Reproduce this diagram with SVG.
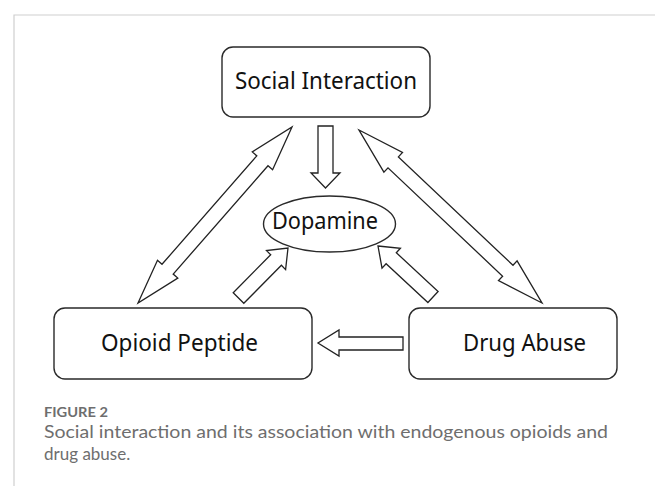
<svg xmlns="http://www.w3.org/2000/svg" width="655" height="486" viewBox="0 0 655 486">
<style>
.box{fill:#fff;stroke:#2a2a2a;stroke-width:1.4}
.lbl{font-family:"Noto Sans","Open Sans","Liberation Sans",sans-serif;font-size:23px;fill:#111;text-anchor:middle}
.arr{fill:#fff;stroke:#222;stroke-width:1.3;stroke-linejoin:miter}
.cap{font-family:Lato,"Open Sans","Liberation Sans",sans-serif;fill:#6e6e6e}
</style>
<rect width="655" height="486" fill="#fff"/>
<path d="M14 486 V15 H655" fill="none" stroke="#cfcfcf" stroke-width="1.2"/>
<g id="social-interaction">
<rect class="box" x="222" y="47" width="208" height="70" rx="11"/>
<text class="lbl" x="326" y="89" textLength="182" lengthAdjust="spacingAndGlyphs">Social Interaction</text>
</g>
<g id="dopamine">
<ellipse class="box" cx="329.5" cy="224" rx="66" ry="28"/>
<text class="lbl" x="325" y="229" font-size="22" textLength="106" lengthAdjust="spacingAndGlyphs">Dopamine</text>
</g>
<g id="opioid-peptide">
<rect class="box" x="54" y="308" width="258" height="71" rx="11"/>
<text class="lbl" x="179.5" y="351" textLength="157" lengthAdjust="spacingAndGlyphs">Opioid Peptide</text>
</g>
<g id="drug-abuse">
<rect class="box" x="409" y="308" width="208" height="71" rx="11"/>
<text class="lbl" x="524.5" y="351" textLength="123" lengthAdjust="spacingAndGlyphs">Drug Abuse</text>
</g>
<g id="connectors">
<polygon class="arr" points="292,127 272.6,169.7 268,165.7 173.2,274.1 177.8,278.1 138,303 157.5,260.3 162,264.3 256.8,155.9 252.3,151.9"/>
<polygon class="arr" points="359,130 402.5,152.5 398.4,156.9 513,265.3 517.1,260.9 542,303 498.5,280.5 502.6,276.2 388,167.8 383.9,172.1"/>
<polygon class="arr" points="318,126 333,126 333,173 340,173 325.5,188 311,173 318,173"/>
<polygon class="arr" points="288,248 285.6,269.6 281.4,265.3 243.8,303.3 233.2,292.7 270.7,254.8 266.5,250.6"/>
<polygon class="arr" points="378,246 400.4,248.3 396.3,252.7 438.1,291.5 427.9,302.5 386.1,263.7 382,268.1"/>
<polygon class="arr" points="403,337 339,337 339,330 318,343 339,356 339,350 403,350"/>
</g>
<text class="cap" x="44" y="417" font-size="14" font-weight="bold" textLength="64" lengthAdjust="spacingAndGlyphs">FIGURE 2</text>
<text class="cap" x="44" y="438" font-size="17" textLength="564" lengthAdjust="spacingAndGlyphs">Social interaction and its association with endogenous opioids and</text>
<text class="cap" x="44" y="460" font-size="17">drug abuse.</text>
</svg>
